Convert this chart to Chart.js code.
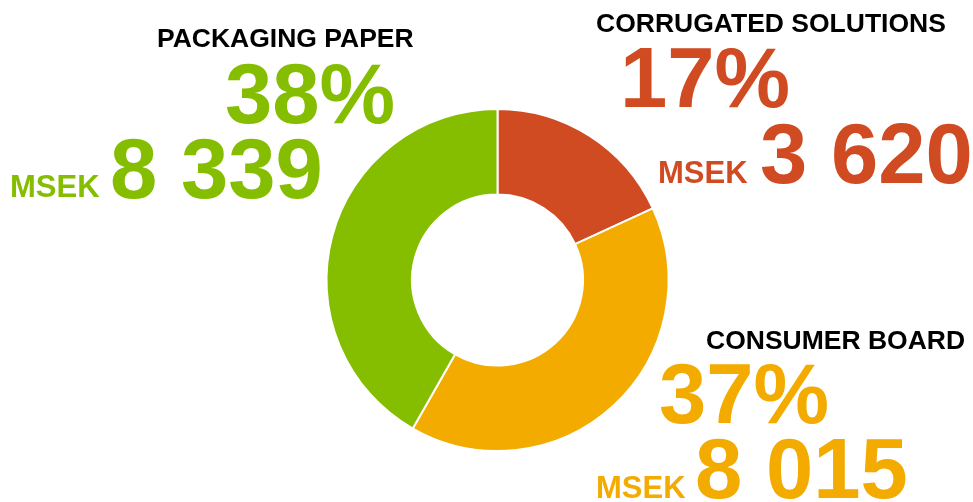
<!DOCTYPE html>
<html>
<head>
<meta charset="utf-8">
<script src="https://cdn.jsdelivr.net/npm/chart.js@4/dist/chart.umd.min.js"></script>
<style>
html,body{margin:0;padding:0;background:#fff;}
#wrap{position:relative;width:973px;height:502px;}
canvas{display:block;}
</style>
</head>
<body>
<div id="wrap"><canvas id="c" width="973" height="502"></canvas></div>
<script>
const categories = ["CORRUGATED SOLUTIONS", "CONSUMER BOARD", "PACKAGING PAPER"];
const values = [3620, 8015, 8339];
const valueLabels = ["3 620", "8 015", "8 339"];
const percentLabels = ["17%", "37%", "38%"];
const unitLabel = "MSEK";
const colors = ["#D04A22", "#F3AB00", "#85BE00"];

// label placement (origin x, baseline y) for title, percent, unit, value
const labelLayout = [
  {title:[596,32], pct:[620,107], unit:[658,183], val:[760,183]},
  {title:[706,349], pct:[659,423], unit:[596,498], val:[695,498]},
  {title:[157,47], pct:[225,123], unit:[10,197], val:[110,198]}
];

const textPlugin = {
  id: 'segmentLabels',
  afterDraw(chart) {
    const ctx = chart.ctx;
    ctx.save();
    ctx.textAlign = 'left';
    ctx.textBaseline = 'alphabetic';
    categories.forEach((cat, i) => {
      const L = labelLayout[i];
      ctx.fillStyle = '#000';
      ctx.font = 'bold 26.5px "Liberation Sans", Arial, sans-serif';
      ctx.fillText(cat, L.title[0], L.title[1]);
      ctx.fillStyle = colors[i];
      ctx.font = 'bold 85px "Liberation Sans", Arial, sans-serif';
      ctx.fillText(percentLabels[i], L.pct[0], L.pct[1]);
      ctx.fillText(valueLabels[i], L.val[0], L.val[1]);
      ctx.font = 'bold 31px "Liberation Sans", Arial, sans-serif';
      ctx.fillText(unitLabel, L.unit[0], L.unit[1]);
    });
    ctx.restore();
  }
};

new Chart(document.getElementById('c'), {
  type: 'doughnut',
  data: {
    labels: categories,
    datasets: [{
      data: values,
      backgroundColor: colors,
      borderColor: '#ffffff',
      borderWidth: 2
    }]
  },
  options: {
    responsive: false,
    animation: false,
    cutout: '50%',
    radius: 171,
    layout: { padding: { left: 200, right: 178, top: 100, bottom: 42 } },
    plugins: { legend: { display: false }, tooltip: { enabled: false } }
  },
  plugins: [textPlugin]
});
</script>
</body>
</html>
